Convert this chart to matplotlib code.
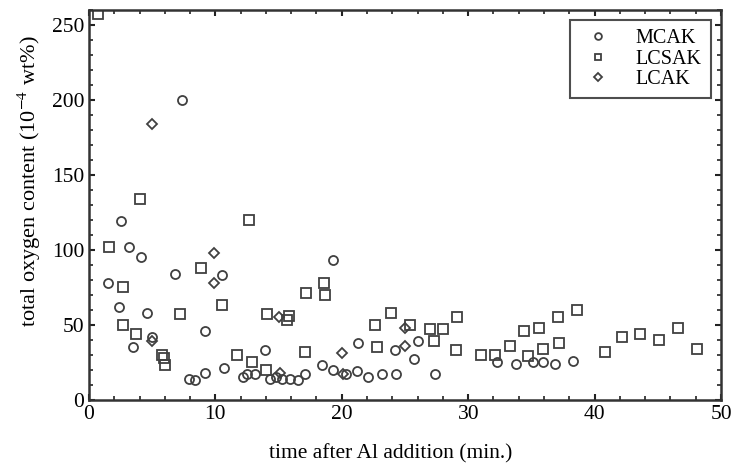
import matplotlib
matplotlib.use("Agg")
import matplotlib.pyplot as plt
from matplotlib.ticker import MultipleLocator

plt.rcParams['font.family'] = ['Liberation Serif', 'DejaVu Serif']
plt.rcParams['mathtext.fontset'] = 'stix'

# MCAK
mcak_t = [1.5, 2.4, 2.5, 3.2, 3.5, 4.1, 4.6, 5.0, 6.8, 7.4, 7.9, 8.4, 9.2, 9.2,
          10.5, 10.7, 12.2, 12.5, 13.1, 13.9, 14.3, 14.8, 15.3, 15.9, 16.5, 17.1,
          18.4, 19.3, 19.3, 20.3, 21.2, 21.3, 22.1, 23.2, 24.2, 24.3, 25.7, 26.0,
          27.4, 32.3, 33.8, 35.1, 35.9, 36.9, 38.3]
mcak_o = [78, 62, 119, 102, 35, 95, 58, 42, 84, 200, 14, 13, 46, 18,
          83, 21, 15, 17, 17, 33, 14, 15, 14, 14, 13, 17,
          23, 20, 93, 17, 19, 38, 15, 17, 33, 17, 27, 39,
          17, 25, 24, 25, 25, 24, 26]

# LCSAK
lcsak_t = [0.7, 1.6, 2.7, 2.7, 3.7, 4.0, 5.75, 5.9, 6.0, 7.2, 8.9, 10.5, 11.7,
           12.7, 12.9, 14.0, 14.1, 15.7, 15.8, 17.1, 17.2, 18.6, 18.7, 22.6, 22.8,
           23.9, 25.4, 27.0, 27.3, 28.0, 29.0, 29.1, 31.0, 32.1, 33.3, 34.4, 34.7,
           35.6, 35.9, 37.1, 37.2, 38.6, 40.8, 42.2, 43.6, 45.1, 46.6, 48.1]
lcsak_o = [257, 102, 75, 50, 44, 134, 30, 28, 23, 57, 88, 63, 30,
           120, 25, 20, 57, 53, 56, 32, 71, 78, 70, 50, 35,
           58, 50, 47, 39, 47, 33, 55, 30, 30, 36, 46, 29,
           48, 34, 55, 38, 60, 32, 42, 44, 40, 48, 34]

# LCAK
lcak_t = [5.0, 5.0, 9.9, 9.9, 15.0, 15.1, 20.0, 20.1, 25.0, 25.0]
lcak_o = [184, 39, 98, 78, 55, 18, 31, 17, 48, 36]

fig = plt.figure(figsize=(7.35, 4.66), dpi=100)
ax = fig.add_axes([0.121, 0.142, 0.86, 0.837])

mk = dict(linestyle='none', markerfacecolor='none', markeredgecolor='#404040',
          markeredgewidth=1.3)
ax.plot(mcak_t, mcak_o, marker='o', markersize=6.5, label='MCAK', **mk)
ax.plot(lcsak_t, lcsak_o, marker='s', markersize=6.5, label='LCSAK', **mk)
ax.plot(lcak_t, lcak_o, marker='D', markersize=5, label='LCAK', **mk)

ax.set_xlim(0, 50)
ax.set_ylim(0, 260)
ax.xaxis.set_major_locator(MultipleLocator(10))
ax.xaxis.set_minor_locator(MultipleLocator(2))
ax.yaxis.set_major_locator(MultipleLocator(50))
ax.yaxis.set_minor_locator(MultipleLocator(10))
ax.tick_params(which='both', direction='in', top=True, right=True,
               labelsize=15.5, color='#222222')
ax.tick_params(which='major', length=4, width=1.5)
ax.tick_params(which='minor', length=3, width=1.2)
for s in ax.spines.values():
    s.set_linewidth(1.8)
    s.set_color('#333333')

ax.set_xlabel('time after Al addition (min.)', fontsize=15.5, labelpad=15, x=0.478)
ax.set_ylabel('total oxygen content (10$^{-4}$ wt%)', fontsize=16, labelpad=6, y=0.56)

leg = ax.legend(loc='upper right', fontsize=14.5, frameon=True, fancybox=False,
                edgecolor='#222222', handlelength=1.8, handletextpad=1.0,
                borderpad=0.45, labelspacing=0.08, markerscale=0.75,
                borderaxespad=0.5)
leg.get_frame().set_linewidth(1.5)

fig.savefig('out.png', dpi=100)
